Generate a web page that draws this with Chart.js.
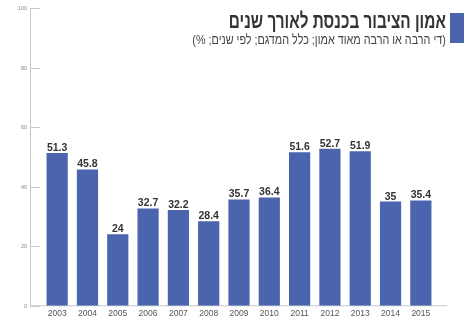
<!DOCTYPE html>
<html>
<head>
<meta charset="utf-8">
<script src="https://cdn.jsdelivr.net/npm/chart.js@4"></script>
<style>
  body { margin: 0; background: #fff; }
  #wrap { position: relative; width: 474px; height: 325px; }
  #myChart { position: absolute; left: 0; top: 0; }
  #head { position: absolute; right: 28px; top: 9px; direction: rtl; text-align: right; font-family: "Liberation Sans", sans-serif; }
  #title { font-size: 21px; font-weight: bold; color: #333; line-height: 23px; white-space: nowrap; transform: scaleX(0.73); transform-origin: right center; }
  #sub { font-size: 13.5px; color: #444; line-height: 15px; white-space: nowrap; transform: scaleX(0.8); transform-origin: right center; }
  #mark { position: absolute; left: 450px; top: 13px; width: 14px; height: 30px; background: #4a65ae; }
</style>
</head>
<body>
<div id="wrap">
  <canvas id="myChart" width="474" height="325"></canvas>
  <div id="mark"></div>
  <div id="head">
    <div id="title">אמון הציבור בכנסת לאורך שנים</div>
    <div id="sub">(די הרבה או הרבה מאוד אמון; כלל המדגם; לפי שנים; %)</div>
  </div>
</div>
<script>
const shanim = ['2003', '2004', '2005', '2006', '2007', '2008', '2009', '2010', '2011', '2012', '2013', '2014', '2015'];
const emun = [51.3, 45.8, 24, 32.7, 32.2, 28.4, 35.7, 36.4, 51.6, 52.7, 51.9, 35, 35.4];
const yTicks = [0, 20, 40, 60, 80, 100];

// axis lines + small tick marks drawn on the y scale
const axisPlugin = {
    id: 'axisLines',
    beforeDatasetsDraw(chart) {
        const ctx = chart.ctx;
        const y = chart.scales.y;
        const x0 = 30;
        ctx.save();
        ctx.strokeStyle = '#c8c8c8';
        ctx.lineWidth = 1;
        ctx.beginPath();
        ctx.moveTo(x0 + 0.5, y.getPixelForValue(100));
        ctx.lineTo(x0 + 0.5, y.getPixelForValue(0));
        ctx.lineTo(447, y.getPixelForValue(0));
        ctx.stroke();
        ctx.font = '5.5px "Liberation Sans", sans-serif';
        ctx.fillStyle = '#888';
        ctx.textAlign = 'right';
        ctx.textBaseline = 'middle';
        yTicks.forEach(t => {
            const py = Math.round(y.getPixelForValue(t)) + 0.5;
            ctx.beginPath();
            ctx.moveTo(x0, py);
            ctx.lineTo(x0 + 10, py);
            ctx.stroke();
            ctx.fillText(t, x0 - 3, py);
        });
        ctx.restore();
    }
};

// value on top of each bar
const valuePlugin = {
    id: 'barValues',
    afterDatasetsDraw(chart) {
        const ctx = chart.ctx;
        const meta = chart.getDatasetMeta(0);
        ctx.save();
        ctx.font = 'bold 10.5px "Liberation Sans", sans-serif';
        ctx.fillStyle = '#333';
        ctx.textAlign = 'center';
        ctx.textBaseline = 'alphabetic';
        meta.data.forEach((bar, i) => {
            ctx.fillText(emun[i], bar.x, bar.y - 2);
        });
        ctx.restore();
    }
};

const unidades = document.getElementById('myChart');

const chart = new Chart(unidades, {
    type: 'bar',
    data: {
        labels: shanim,
        datasets: [{
            data: emun,
            backgroundColor: '#4a65ae',
            borderWidth: 0,
            barPercentage: 0.7,
            categoryPercentage: 1
        }]
    },
    options: {
        responsive: false,
        animation: false,
        layout: { padding: { left: 42, right: 38, top: 8, bottom: 3 } },
        plugins: {
            legend: { display: false },
            tooltip: { enabled: false }
        },
        scales: {
            x: {
                grid: { display: false, drawTicks: false },
                border: { display: false },
                ticks: {
                    color: '#555',
                    font: { size: 8.5, family: '"Liberation Sans", sans-serif' },
                    padding: 3,
                    maxRotation: 0
                }
            },
            y: {
                display: false,
                min: 0,
                max: 100
            }
        }
    },
    plugins: [axisPlugin, valuePlugin]
});
</script>
</body>
</html>
